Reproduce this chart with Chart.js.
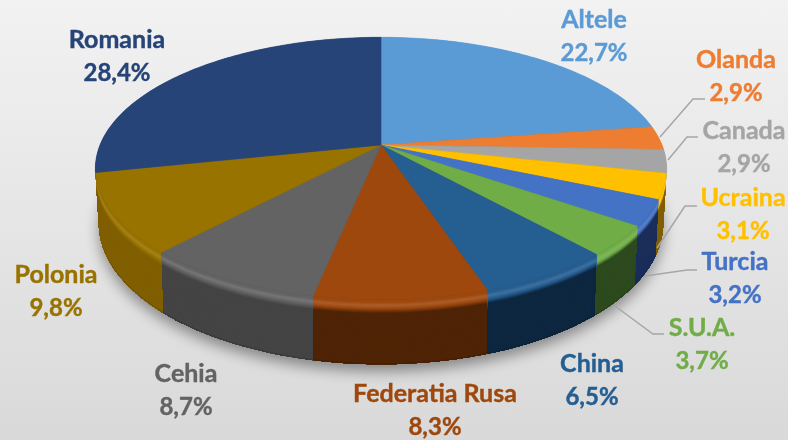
<!DOCTYPE html>
<html>
<head>
<meta charset="utf-8">
<title>Pie 3D</title>
<script src="https://cdn.jsdelivr.net/npm/chart.js@4"></script>
<style>
  html, body { margin: 0; padding: 0; }
  body { width: 788px; height: 440px; overflow: hidden; background: linear-gradient(to bottom, #f2f2f2, #d9d9d9); }
  canvas { display: block; }
</style>
</head>
<body>
<canvas id="chart" width="788" height="440"></canvas>
<script>
const categories = ["Altele", "Olanda", "Canada", "Ucraina", "Turcia", "S.U.A.", "China", "Federatia Rusa", "Cehia", "Polonia", "Romania"];
const shares = [22.7, 2.9, 2.9, 3.1, 3.2, 3.7, 6.5, 8.3, 8.7, 9.8, 28.4];

const topColors = ["#5b9bd5", "#ed7d31", "#a5a5a5", "#ffc000", "#4472c4", "#70ad47", "#255e91", "#9e480e", "#636363", "#997300", "#264478"];
const wallColors = ["#2e4e6b", "#773f19", "#535353", "#806000", "#1b2e5a", "#2d4a1e", "#0e2740", "#4f2406", "#444444", "#805f00", "#132239"];
const textColors = ["#5b9bd5", "#ed7d31", "#a5a5a5", "#ffc000", "#4472c4", "#70ad47", "#255e91", "#9e480e", "#636363", "#997300", "#264478"];

// label centres, name line then value line is 33px below
const labelSpots = [[594, 20], [736, 60], [744, 131], [743, 198], [735, 262], [702, 328], [592, 364], [435, 394], [186, 374], [56, 275], [117, 40]];

// leader lines: pie edge, elbow, end
const leaders = [
  [[660, 137], [693, 99], [705, 99]],
  [[668, 160], [687, 137], [698, 137]],
  [[657, 248], [685, 206], [697, 206]],
  [[645, 276], [687, 270], [697, 270]],
  [[615, 306], [653, 334], [664, 334]]
];

// perspective of the disc, apex sits above the middle of the ellipse
const cx = 381, cy = 145;
const spanX = 281, spanY = 127, tilt = 0.179, depth = 53;

function project(theta) {
  const u = Math.sin(theta), v = -Math.cos(theta);
  const w = 1 - tilt * v;
  return { x: cx + spanX * u / w, y: cy + spanY * v / w, w: w, v: v };
}

function sink(p, t) {
  return { x: cx + (p.x - cx) * (1 - 0.012 * t), y: p.y + t * depth / p.w };
}

function arcPoints(start, end) {
  const pts = [];
  const steps = Math.max(4, Math.ceil((end - start) / 0.02));
  for (let i = 0; i <= steps; i++) {
    pts.push(project(start + (end - start) * i / steps));
  }
  return pts;
}

function toRgb(c) {
  if (c[0] === "#") {
    const a = parseInt(c.slice(1), 16);
    return [(a >> 16) & 255, (a >> 8) & 255, a & 255];
  }
  return c.match(/\d+/g).map(Number);
}

function blend(c1, c2, f) {
  const a = toRgb(c1), b = toRgb(c2);
  return `rgb(${a.map((x, i) => Math.round(x * (1 - f) + b[i] * f)).join(", ")})`;
}

function drawWall(ctx, pts, topColor, wallColor) {
  // rim stops, painted from the top down so each band covers the rest of the wall
  const stops = [[0, topColor], [0.03, topColor], [0.08, blend(topColor, "#ffffff", 0.12)], [0.13, topColor], [0.2, wallColor], [0.97, wallColor], [1, blend(wallColor, "#000000", 0.35)]];
  for (let n = 0; n <= 60; n++) {
    const t = n / 60;
    let a = stops[0], b = stops[stops.length - 1];
    for (let s = 0; s < stops.length - 1; s++) {
      if (t >= stops[s][0] && t <= stops[s + 1][0]) { a = stops[s]; b = stops[s + 1]; break; }
    }
    const f = (t - a[0]) / (b[0] - a[0] || 1);
    ctx.fillStyle = blend(a[1], b[1], f);
    ctx.beginPath();
    pts.forEach((p, i) => {
      const q = sink(p, t);
      if (i === 0) ctx.moveTo(q.x, q.y); else ctx.lineTo(q.x, q.y);
    });
    for (let i = pts.length - 1; i >= 0; i--) {
      const q = sink(pts[i], 1);
      ctx.lineTo(q.x, q.y);
    }
    ctx.closePath();
    ctx.fill();
  }
}

const pie3d = {
  id: "pie3d",
  beforeDatasetDraw(chart) {
    const ctx = chart.ctx;
    const arcs = chart.getDatasetMeta(0).data;
    const turn = Math.PI / 2;

    ctx.save();

    // soft shadow under the disc
    const base = arcPoints(0, Math.PI * 2).map(p => sink(p, 1));
    ctx.save();
    ctx.shadowColor = "rgba(0, 0, 0, 0.4)";
    ctx.shadowBlur = 14;
    ctx.shadowOffsetY = 7;
    ctx.fillStyle = "#444444";
    ctx.beginPath();
    base.forEach((p, i) => i ? ctx.lineTo(p.x, p.y) : ctx.moveTo(p.x, p.y));
    ctx.closePath();
    ctx.fill();
    ctx.restore();

    // walls back to front, so the rear ones never show over the front ones
    const order = arcs.map((arc, i) => {
      const mid = (arc.startAngle + arc.endAngle) / 2 + turn;
      return { arc: arc, i: i, v: -Math.cos(mid) };
    }).sort((a, b) => a.v - b.v);
    order.forEach(o => {
      drawWall(ctx, arcPoints(o.arc.startAngle + turn, o.arc.endAngle + turn), topColors[o.i], wallColors[o.i]);
    });

    arcs.forEach((arc, i) => {
      const pts = arcPoints(arc.startAngle + turn, arc.endAngle + turn);
      ctx.fillStyle = topColors[i];
      ctx.strokeStyle = topColors[i];
      ctx.lineWidth = 0.6;
      ctx.beginPath();
      ctx.moveTo(cx, cy);
      pts.forEach(p => ctx.lineTo(p.x, p.y));
      ctx.closePath();
      ctx.fill();
      ctx.stroke();
    });

    ctx.restore();
    return false;
  },
  afterDatasetsDraw(chart) {
    const ctx = chart.ctx;
    ctx.save();

    ctx.strokeStyle = "#a6a6a6";
    ctx.lineWidth = 1.5;
    leaders.forEach(line => {
      ctx.beginPath();
      line.forEach((p, i) => i ? ctx.lineTo(p[0], p[1]) : ctx.moveTo(p[0], p[1]));
      ctx.stroke();
    });

    ctx.textAlign = "center";
    ctx.textBaseline = "middle";
    ctx.lineWidth = 0.4;
    categories.forEach((name, i) => {
      const spot = labelSpots[i];
      const value = shares[i].toFixed(1).replace(".", ",") + "%";
      ctx.fillStyle = textColors[i];
      ctx.strokeStyle = textColors[i];
      ctx.font = "bold 25px Lato";
      ctx.fillText(name, spot[0], spot[1]);
      ctx.strokeText(name, spot[0], spot[1]);
      ctx.font = "bold 24px Lato";
      ctx.fillText(value, spot[0], spot[1] + 33);
      ctx.strokeText(value, spot[0], spot[1] + 33);
    });
    ctx.restore();
  }
};

new Chart(document.getElementById("chart"), {
  type: "pie",
  data: {
    labels: categories,
    datasets: [{ data: shares, backgroundColor: topColors, borderWidth: 0 }]
  },
  options: {
    responsive: false,
    animation: false,
    events: [],
    plugins: {
      legend: { display: false },
      tooltip: { enabled: false }
    }
  },
  plugins: [pie3d]
});
</script>
</body>
</html>
